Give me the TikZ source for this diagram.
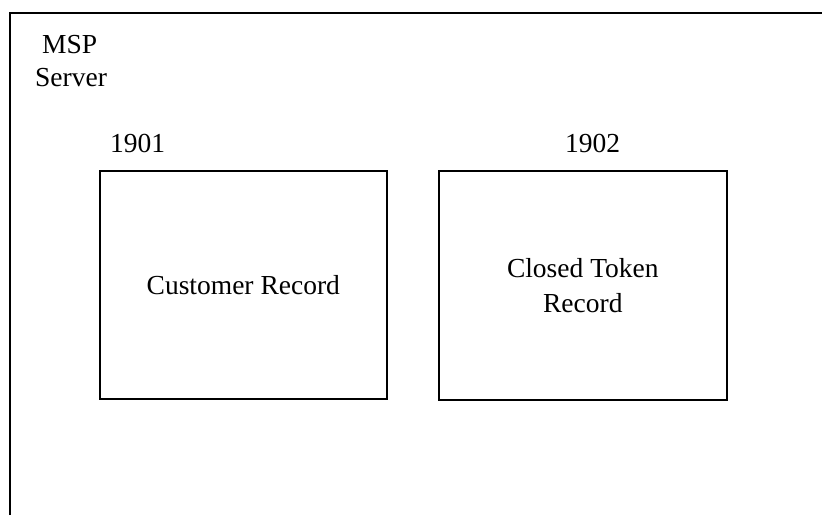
\documentclass[tikz,border=0pt]{standalone}
\usepackage{fontspec}
\setmainfont{Liberation Serif}
\begin{document}
\begin{tikzpicture}[x=1pt,y=-1pt,
  frame/.style={line width=1.6pt},
  txt/.style={font=\fontsize{27.5}{35}\selectfont},
  recbox/.style={draw,line width=1.6pt,minimum height=228pt,anchor=north west,align=center,inner sep=0pt,txt},
  lbl/.style={txt,inner sep=0pt,anchor=base west}]
\useasboundingbox (0,0) rectangle (822,515);
\coordinate (fa) at (10,515);
\coordinate (fb) at (10,13);
\coordinate (fc) at (822,13);
\draw[frame] (fa) -- (fb) -- (fc);
\node[lbl] (msp) at (42,53) {MSP};
\node[lbl] (server) at (35,86) {Server};
\node[lbl] (n1901) at (110,152) {1901};
\node[lbl] (n1902) at (565,152) {1902};
\node[recbox,minimum width=287pt] (cust) at (99,170) {Customer Record};
\node[recbox,minimum width=288pt,minimum height=229pt] (tok) at (438,170) {Closed Token\\Record};
\end{tikzpicture}
\end{document}
